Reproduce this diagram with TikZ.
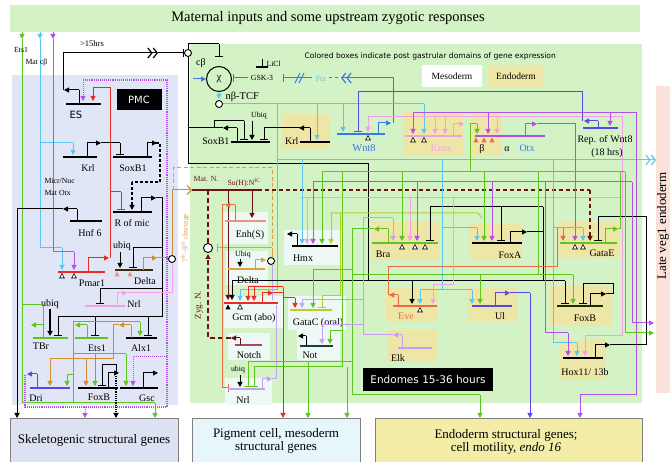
\documentclass[tikz,border=0pt]{standalone}
\usepackage{fontspec}
\setmainfont{Liberation Serif}
\setsansfont{DejaVu Sans}
\usetikzlibrary{arrows.meta}
\definecolor{bggreen}{HTML}{D3F2C5}
\definecolor{bgpmc}{HTML}{E1E6F6}
\definecolor{yelbox}{HTML}{EEE6A6}
\definecolor{wbox}{HTML}{EEF8F5}
\definecolor{pinkbg}{HTML}{FCE1DA}
\definecolor{skelbox}{HTML}{DDE2F3}
\definecolor{pigbox}{HTML}{E6F6FA}
\definecolor{endobox}{HTML}{F3EDA8}
\definecolor{lblue}{HTML}{5CC6F2}
\definecolor{mblue}{HTML}{3C78E6}
\definecolor{bviol}{HTML}{5A48E6}
\definecolor{purp}{HTML}{B450EA}
\definecolor{pinkc}{HTML}{F4A0E4}
\definecolor{lav}{HTML}{C4A0F4}
\definecolor{grn}{HTML}{5CC61C}
\definecolor{ygrn}{HTML}{B8CC2C}
\definecolor{orng}{HTML}{D48C34}
\definecolor{redc}{HTML}{EC2A22}
\definecolor{ored}{HTML}{E66C44}
\definecolor{brwn}{HTML}{6C1212}
\definecolor{salm}{HTML}{F49080}
\definecolor{dorange}{HTML}{DCA040}
\begin{document}
\begin{tikzpicture}[x=1pt,y=-1pt,line width=1pt,
 ar/.style={-{Triangle[length=5pt,width=5pt]}},
 br/.style={-{Bar[width=8pt,line width=1.3pt]}},
 gl/.style={line width=1.6pt},
 lbl/.style={font=\fontsize{10}{10}\selectfont,inner sep=0pt},
 sml/.style={font=\fontsize{7.8}{8}\selectfont,inner sep=0pt},
 dchev/.style={-{Straight Barb[length=4pt,width=10pt,line width=1.2pt]Straight Barb[length=4pt,width=10pt,line width=1.2pt]}},
 otri/.pic={\draw[line width=0.6pt,fill=white] (-2.3,6)--(2.3,6)--(0,1.5)--cycle;},
 ftri/.pic={\fill (-2.6,6.5)--(2.6,6.5)--(0,1.5)--cycle;},
 ocirc/.style={circle,draw,fill=white,inner sep=0pt,minimum size=7pt,line width=0.9pt},
 bk/.style={fill=black,text=white,font=\sffamily\fontsize{10}{10}\selectfont,inner sep=0pt},
]
\fill[white] (0,0) rectangle (670,462);
\useasboundingbox (0,0) rectangle (670,462);
% ---------- backgrounds ----------
\fill[bggreen] (10,5) rectangle (640,32);
\node[font=\fontsize{14.5}{15}\selectfont] (title) at (328,18.5) {Maternal inputs and some upstream zygotic responses};
\fill[bgpmc] (12,75) rectangle (178,405);
\fill[bggreen] (190,44) rectangle (642,403);
\fill[pinkbg] (656,86) rectangle (672,393);
\node[rotate=90,font=\fontsize{13}{13}\selectfont,inner sep=0pt] (lateveg) at (663,226) {Late veg1 endoderm};
\filldraw[fill=skelbox,draw=gray,line width=0.6pt] (10,418) rectangle (178,470);
\filldraw[fill=pigbox,draw=gray,line width=0.6pt] (192,418) rectangle (360,470);
\filldraw[fill=endobox,draw=gray,line width=0.6pt] (375,418) rectangle (642,470);
\node[font=\fontsize{13}{13}\selectfont] (skel) at (94,440) {Skeletogenic structural genes};
\node[font=\fontsize{13}{13.5}\selectfont,align=center] (pig) at (276,441) {Pigment cell, mesoderm\\structural genes};
\node[font=\fontsize{13}{13.5}\selectfont,align=center] (endos) at (506,442) {Endoderm structural genes;\\cell motility, \textit{endo 16}};
% gene boxes
\fill[yelbox] (282,114) rectangle (330,149);
\fill[yelbox] (403,112) rectangle (463,156);
\fill[yelbox] (472,112) rectangle (502,156);
\fill[yelbox] (372,222) rectangle (440,260);
\fill[yelbox] (469,224) rectangle (522,260);
\fill[yelbox] (557,222) rectangle (620,258);
\fill[yelbox] (386,288) rectangle (438,322);
\fill[yelbox] (468,288) rectangle (518,321);
\fill[yelbox] (550,286) rectangle (612,326);
\fill[yelbox] (387,330) rectangle (437,362);
\fill[yelbox] (560,340) rectangle (606,380);
\fill[wbox] (222,212) rectangle (268,244);
\fill[wbox] (226,251) rectangle (268,285);
\fill[wbox] (284,230) rectangle (342,265);
\fill[wbox] (224,296) rectangle (284,328);
\fill[wbox] (288,296) rectangle (346,330);
\fill[wbox] (228,333) rectangle (270,360);
\fill[wbox] (297,330) rectangle (340,360);
\fill[wbox] (225,378) rectangle (272,405);
\node[fill=white,minimum width=60pt,minimum height=22pt,font=\fontsize{9.5}{9.5}\selectfont] (meso) at (452,76) {Mesoderm};
\node[fill=yelbox,minimum width=56pt,minimum height=22pt,font=\fontsize{9.5}{9.5}\selectfont] (endo) at (516,76) {Endoderm};
\node[font=\sffamily\fontsize{7.6}{8}\selectfont,anchor=west,inner sep=0pt] (colored) at (304,56) {Colored boxes indicate post gastrular domains of gene expression};
\node[bk,minimum width=45pt,minimum height=21pt] (pmc) at (139,100) {PMC};
\node[bk,minimum width=130pt,minimum height=23pt,font=\sffamily\fontsize{10.5}{11}\selectfont] (endomes) at (428,380) {Endomes 15-36 hours};
% ---------- maternal lines ----------
\draw[grn,ar] (22,32)--(22,39);
\draw[lblue,ar] (40,32)--(40,39);
\draw[purp,ar] (53,32)--(53,39);
\draw[grn] (22,39)--(22,403)--(155,403);
\draw[grn,ar] (155,403)--(155,418);
\draw[lblue] (40,39)--(40,248)--(62,248);
\draw[lblue,ar] (62,248)--(62,270);
\draw[lblue] (40,143)--(73,143);
\draw[lblue,ar] (73,143)--(73,155);
\draw[purp] (53,39)--(53,252)--(74,252);
\draw[purp,ar] (74,252)--(74,270);
\node[sml] (ets1m) at (21,50) {Ets1};
\node[sml,anchor=west] (matcb) at (25,63) {Mat cβ};
\node[sml,anchor=west] (micr) at (44,181) {Micr/Nuc};
\node[sml,anchor=west] (matotx) at (44,193) {Mat Otx};
% ---------- PMC ----------
\draw[purp,densely dotted,line width=1.1pt] (83,80)--(167,80)--(167,407)--(25,407)--(25,375);
\draw[purp,ar,densely dotted] (83,80)--(83,101);
\draw[purp,ar,densely dotted] (167,357)--(133,357)--(133,386);
\draw[purp,ar,densely dotted] (85,407)--(85,418);
% ES
\draw[gl] (66,104)--(101,104);
\node[font=\sffamily\fontsize{10}{10}\selectfont] (es) at (76,115) {ES};
\draw (79,104)--(79,90);
\draw[ar] (79,90)--(64,90);
\draw (63,90)--(63,53);
\draw[dchev] (63,53)--(158,53);
\draw[br] (158,53)--(184,53);
\node[ocirc] (c1) at (188,53) {};
\node[font=\fontsize{8.5}{9}\selectfont,inner sep=0pt] (hrs) at (92,44) {>15hrs};
% red Pmar1 output
\draw[redc] (110,258)--(110,88)--(93,88);
\draw[redc,ar] (93,88)--(93,101);
\draw[redc] (110,192)--(121,192);
\draw[redc,br] (121,192)--(121,210);
% Krl PMC
\draw[gl] (63,157)--(97,157);
\node[lbl] (krlp) at (88,168) {Krl};
\draw (87,157)--(87,143);
\draw[ar] (87,143)--(101,143);
\draw (101,143)--(120,143);
\draw[br] (120,143)--(120,155);
% SoxB1 PMC
\draw[gl] (113,157)--(152,157);
\node[lbl] (soxp) at (133,168) {SoxB1};
\draw (147,157)--(147,143);
\draw[ar] (147,143)--(157,143);
\draw[dash pattern=on 3pt off 2pt,line width=1.5pt] (156,143)--(160,143)--(160,182)--(132,182);
\draw[dash pattern=on 3pt off 2pt,line width=1.5pt,ar] (132,182)--(132,210);
% R of mic
\draw[gl] (113,212)--(152,212);
\node[lbl] (rmic) at (132,223) {R of mic};
\draw (141,212)--(141,198);
\draw[ar] (141,198)--(156,198);
\draw (156,198)--(162,198)--(162,317);
% Hnf6
\draw[gl] (70,221)--(102,221);
\node[lbl] (hnf) at (90,233) {Hnf 6};
\draw (77,221)--(77,209);
\draw[ar] (77,209)--(63,209);
\draw (63,209)--(17,209);
\draw[ar] (17,209)--(17,418);
% Pmar1
\draw[redc,gl] (58,272)--(105,272);
\pic at (62,272) {otri};
\pic at (74,272) {otri};
\node[lbl] (pmar) at (92,283) {Pmar1};
\draw[redc] (88,272)--(88,258);
\draw[redc,ar] (88,258)--(109,258);
% Delta PMC
\node[lbl] (ubq1) at (122,246) {ubiq};
\draw[ar] (120,252)--(120,268);
\draw[gl,black!70!orng] (115,270)--(153,270);
\draw (162,248)--(133,248);
\draw[br] (133,248)--(133,268);
\pic[color=salm] at (117,270) {ftri};
\pic[color=salm] at (130,270) {ftri};
\draw[orng] (143,270)--(143,258);
\draw[orng,ar] (143,258)--(157,258);
\draw[orng] (157,258)--(168,258);
\node[ocirc] (c2) at (172,259) {};
\draw[orng] (172,255)--(172,190);
\draw[orng,-{Straight Barb[length=4pt,width=9pt,line width=1.2pt]}] (172,190)--(192,190);
\node[lbl] (deltap) at (145,281) {Delta};
% Nrl PMC
\draw[pinkc,gl] (85,306)--(125,306);
\node[lbl] (nrlp) at (134,304) {Nrl};
\draw[pinkc] (117,306)--(117,293);
\draw[pinkc,ar] (117,293)--(127,293);
\draw[pinkc] (127,293)--(172,293)--(172,263);
\draw (162,289)--(100,289);
\draw[br] (100,289)--(100,304);
% TBr, Ets1, Alx1
\draw (162,317)--(58,317);
\draw[br] (58,317)--(58,336);
\draw[br] (95,317)--(95,336);
\draw[br] (148,317)--(148,336);
\node[lbl] (ubq2) at (50,304) {ubiq};
\draw[ar,line width=1.3pt] (50,309)--(50,336);
\draw[grn,gl] (33,338)--(68,338);
\node[lbl] (tbr) at (41,346) {TBr};
\draw[grn] (22,305)--(43,305)--(43,338);
\draw[grn,ar] (43,325)--(31,325);
\draw[grn,gl] (75,338)--(108,338);
\node[lbl] (ets1p) at (97,348) {Ets1};
\draw[grn] (87,338)--(87,325);
\draw[grn,ar] (87,325)--(75,325);
\draw[grn] (73,322)--(73,403);
\draw[grn] (73,322)--(140,322);
\draw[grn,ar] (140,322)--(140,336);
\draw[gl] (126,338)--(157,338);
\node[lbl] (alx) at (141,348) {Alx1};
\draw[orng] (131,338)--(131,325);
\draw[orng,ar] (131,325)--(119,325);
\draw[orng] (119,325)--(113,325)--(113,359)--(50,359);
\draw[orng,ar] (50,359)--(50,386);
\draw[orng,ar] (86,359)--(86,386);
% Dri, FoxB, Gsc
\draw[grn] (73,354)--(126,354);
\draw[grn,ar] (95,354)--(95,386);
\draw[grn,ar] (126,354)--(126,386);
\draw[grn] (73,375)--(67,375);
\draw[grn,ar] (67,375)--(67,386);
\draw[bviol,gl] (30,388)--(70,388);
\node[lbl] (dri) at (36,398) {Dri};
\draw[bviol] (37,388)--(37,374);
\draw[bviol,ar] (37,374)--(27,374);
\draw[gl] (78,388)--(118,388);
\node[lbl] (foxbp) at (99,397) {FoxB};
\draw (108,388)--(108,373);
\draw[ar] (108,373)--(119,373);
\draw (116,373)--(116,365)--(102,365);
\draw[br] (102,365)--(102,386);
\draw[ar,densely dotted,line width=1.2pt] (116,376)--(116,418);
\draw[gl] (120,388)--(158,388);
\node[lbl] (gsc) at (147,398) {Gsc};
\draw (143,388)--(143,373);
\draw[ar] (143,373)--(158,373);
% ---------- green region: top ----------
\draw (188,57)--(188,164)--(368,164)--(368,281);
\draw (188,49)--(188,44)--(219,44);
\draw[br] (219,44)--(219,57);
\node[circle,draw,minimum size=25pt,inner sep=0pt,font=\fontsize{11}{11}\selectfont] (chi) at (219,79) {χ};
\node[lbl] (cb) at (201,63) {cβ};
\draw[mblue,ar] (193,79)--(206,79);
\draw[lblue,ar] (219,92)--(219,99);
\node[ocirc] (tcfc) at (219,104) {};
\node[font=\fontsize{10.5}{11}\selectfont,anchor=west,inner sep=0pt] (tcf) at (225,97) {nβ-TCF};
\draw[mblue,br] (248,78)--(233,78);
\node[sml] (gsk) at (262,78) {GSK-3};
\draw[mblue,br] (312,78)--(283,78);
\draw[mblue,line width=0.9pt] (295,83)--(300,73) (299,83)--(304,73);
\node[sml,text=lblue] (frz) at (321,79) {Frz};
\draw[mblue,dashed] (329,78)--(338,78);
\draw[mblue,dchev] (393,123)--(393,78)--(341,78);
\draw (262,59)--(262,67);
\draw[line width=1.3pt] (256,67)--(268,67);
\node[sml,anchor=west] (licl) at (266,64) {LiCl};
% TCF lines
\draw[lblue] (223,104)--(424,104);
\draw[lblue,ar] (424,104)--(424,134);
\draw[lblue,ar] (317,104)--(317,140);
\draw[lblue,ar] (343,104)--(343,132);
\draw[lblue] (277,104)--(277,290)--(240,290);
\draw[lblue,ar] (240,290)--(240,301);
\draw[lblue] (277,160)--(636,160);
\draw[lblue,dchev] (630,160)--(656,160);
% SoxB1 green
\draw[gl] (231,142)--(270,142);
\node[lbl,anchor=base east] (soxg) at (230,145) {SoxB1};
\draw (237,142)--(237,128);
\draw[ar] (237,128)--(223,128);
\draw (223,128)--(188,128);
\draw (214,128)--(214,121)--(244,121);
\draw[br] (244,121)--(244,140);
\node[sml] (ubq3) at (259,116) {Ubiq};
\draw[ar] (252,121)--(252,140);
\draw (300,128)--(264,128);
\draw[br] (264,128)--(264,140);
% Krl green
\draw[gl] (300,142)--(330,142);
\node[lbl,anchor=base east] (krlg) at (299,145) {Krl};
\draw (310,142)--(310,128);
\draw[ar] (310,128)--(299,128);
% Wnt8
\draw[mblue,gl] (337,134)--(385,134);
\node[lbl,text=mblue,font=\fontsize{10.5}{11}\selectfont] (wnt8) at (364,148) {Wnt8};
\pic at (368,134) {otri};
\draw[pinkc] (368,117)--(622,117)--(622,336)--(585,336);
\draw[pinkc,ar] (585,336)--(585,356);
\draw[pinkc,ar] (368,117)--(368,132);
\draw[mblue] (378,134)--(378,123);
\draw[mblue,ar] (378,123)--(391,123);
\draw[bviol] (582,121)--(582,92)--(358,92);
\draw[bviol,br] (358,92)--(358,132);
% Krox
\draw[purp] (413,113)--(636,113)--(636,395)--(580,395);
\draw[purp,ar] (580,395)--(580,418);
\draw[pinkc,gl] (405,136)--(462,136);
\node[lbl,text=pinkc] (krox) at (441,148) {Krox};
\pic at (413,136) {otri};
\pic at (424,136) {otri};
\draw[purp,ar] (413,113)--(413,134);
\draw[pinkc,ar] (435,117)--(435,134);
\draw[pinkc,ar] (445,117)--(445,134);
\draw[pinkc] (453,136)--(453,124);
\draw[pinkc,ar] (453,124)--(464,124);
% beta / Otx
\draw[purp,gl] (475,136)--(545,136);
\pic[color=ored] at (476,136) {ftri};
\pic[color=ored] at (484,136) {ftri};
\pic[color=ored] at (492,136) {ftri};
\node[lbl] (beta) at (482,149) {β};
\node[lbl] (alpha) at (507,149) {α};
\node[lbl,text=mblue] (otx) at (527,148) {Otx};
\draw[purp,ar] (488,113)--(488,134);
\draw[pinkc,ar] (497,117)--(497,134);
\draw[grn] (470,172)--(470,124)--(477,124);
\draw[grn,ar] (477,124)--(477,134);
\draw[purp] (525,136)--(525,124);
\draw[purp,ar] (525,124)--(537,124);
\draw[purp] (537,124)--(575,124)--(575,182);
% Rep of Wnt8
\draw[bviol,gl] (583,128)--(618,128);
\node[lbl] (rep) at (605,140) {Rep. of Wnt8};
\node[lbl] (rep18) at (607,153) {(18 hrs)};
\draw[bviol] (598,128)--(598,121);
\draw[bviol,ar] (598,121)--(584,121);
\draw[purp,ar] (610,113)--(610,126);
% ---------- Notch / Su(H) ----------
\draw[dorange,dash pattern=on 4pt off 2.5pt] (173,190)--(173,168)--(272,168)--(272,248);
\draw[dorange,br] (272,248)--(217,248);
\draw[dorange] (272,248)--(272,257);
\node[rotate=90,text=dorange,font=\fontsize{7.5}{8}\selectfont] (clv) at (185,238) {7\textsuperscript{th}–9\textsuperscript{th} cleavage};
\node[sml,text=brwn] (matn) at (206,179) {Mat. N.};
\node[sml,text=brwn] (suh) at (244,183) {Su(H):N\textsuperscript{IC}};
\draw[brwn,line width=1.3pt] (192,190)--(258,190);
\draw[brwn,line width=1.3pt,dash pattern=on 4pt off 3pt] (258,190)--(590,190);
\draw[brwn,line width=1.3pt,dash pattern=on 4pt off 3pt,ar] (590,190)--(590,241);
\draw[brwn,ar] (228,190)--(228,300);
\draw[brwn,ar] (252,190)--(252,218);
\draw[brwn,line width=1.4pt,dash pattern=on 5pt off 3pt] (208,190)--(208,244);
\node[ocirc,minimum size=9pt] (c3) at (208,248) {};
\draw[brwn,line width=1.4pt,dash pattern=on 5pt off 3pt,ar] (231,338)--(208,338)--(208,254);
\node[rotate=90,text=brwn,font=\fontsize{9}{9}\selectfont] (zyg) at (199,305) {Zyg. N.};
% Enh(S)
\draw[salm,gl] (225,221)--(266,221);
\node[lbl] (enh) at (250,235) {Enh(S)};
\draw[ored] (235,221)--(235,205);
\draw[ored,ar] (235,205)--(225,205);
\draw[ored] (225,205)--(222,205)--(222,388);
\draw[ored,br] (222,388)--(229,388);
% Delta green
\node[sml] (ubq4) at (243,255) {Ubiq};
\draw[ar] (240,259)--(240,267);
\draw[dorange,gl] (228,269)--(265,269);
\node[lbl] (deltag) at (248,280) {Delta};
\draw[dorange] (255,269)--(255,260);
\draw[dorange,ar] (255,260)--(266,260);
\node[ocirc] (c4) at (271,261) {};
\draw[lav] (272,265)--(272,300);
% Gcm
\draw (232,281)--(565,281);
\draw[ar] (232,281)--(232,300);
\draw[redc,gl] (224,303)--(278,303);
\pic at (240,303) {otri};
\pic at (228,303) {ftri};
\node[lbl] (gcm) at (254,318) {Gcm (abo)};
\draw[redc] (262,303)--(262,293);
\draw[redc,ar] (262,293)--(273,293);
\draw[redc] (273,293)--(283,293);
\draw[redc,ar] (283,287)--(283,418);
\draw[redc] (283,287)--(248,287);
\draw[redc,ar] (248,287)--(248,301);
\draw[redc,ar] (254,287)--(254,301);
\draw[redc] (283,298)--(295,298);
\draw[redc,ar] (295,298)--(295,308);
% GataC
\draw[ygrn,gl] (290,310)--(332,310);
\node[lbl] (gatac) at (318,323) {GataC (oral)};
\draw[lav] (363,300)--(302,300);
\draw[lav,ar] (302,300)--(302,308);
\draw[grn] (352,270)--(313,270);
\draw[grn,ar] (313,270)--(313,308);
\draw[ygrn] (340,213)--(340,296)--(322,296);
\draw[ygrn,br] (322,296)--(322,308);
% Notch
\draw[brwn!60!pinkc,gl] (235,345)--(262,345);
\node[lbl] (notch) at (249,355) {Notch};
\draw[brwn] (240,345)--(240,338);
\draw[brwn,ar] (240,338)--(231,338);
% Nrl green
\node[sml] (ubq5) at (238,370) {ubiq};
\draw[ar] (240,375)--(240,387);
\draw[lav,gl] (228,389)--(265,389);
\node[lbl] (nrlg) at (243,400) {Nrl};
\draw[lav] (262,389)--(262,379);
\draw[lav,ar] (262,379)--(272,379);
\draw[lav] (272,379)--(276,379)--(276,305);
\draw[grn] (352,229)--(352,362)--(248,362);
\draw[grn,br] (248,362)--(248,387);
\draw[grn] (342,172)--(342,367)--(254,367);
\draw[grn,br] (254,367)--(254,387);
\draw[grn,ar] (308,362)--(308,418);
\draw[grn] (352,362)--(352,395)--(480,395);
\draw[grn,ar] (347,367)--(347,418);
\draw[grn,ar] (480,395)--(480,418);
% Not
\draw[black!70!lblue,gl] (300,346)--(333,346);
\node[lbl] (nott) at (310,355) {Not};
\draw (306,346)--(306,336);
\draw[ar] (306,336)--(298,336);
\draw[lav] (363,325)--(322,325);
\draw[lav,ar] (322,325)--(322,344);
\draw[grn] (342,331)--(330,331);
\draw[grn,ar] (330,331)--(330,344);
% ---------- mid buses ----------
\draw[grn] (322,172)--(625,172);
\draw[purp] (313,182)--(632,182);
\draw[pinkc] (300,198)--(622,198);
\draw[ygrn] (331,213)--(478,213)--(482,218);
\draw (430,207)--(543,207);
\draw[grn] (538,172)--(538,275);
% Hmx
\draw[gl] (292,246)--(338,246);
\node[lbl] (hmx) at (303,258) {Hmx};
\draw (297,246)--(297,234);
\draw[ar] (297,234)--(287,234);
\draw[lblue,ar] (302,160)--(302,244);
\draw[pinkc,ar] (307,198)--(307,244);
\draw[purp,ar] (313,182)--(313,244);
\draw[grn,ar] (322,172)--(322,244);
\draw[ygrn,ar] (331,213)--(331,244);
% Bra
\draw[grn,gl] (372,243)--(438,243);
\node[lbl] (bra) at (383,254) {Bra};
\draw[grn] (388,243)--(388,229);
\draw[grn,ar] (388,229)--(374,229);
\draw[grn] (374,229)--(352,229);
\pic at (402,243) {otri};
\pic at (415,243) {otri};
\pic at (425,243) {otri};
\draw[lav] (393,335)--(363,335)--(363,218)--(393,218);
\draw[lav,ar] (393,218)--(393,241);
\draw[grn,ar] (402,172)--(402,241);
\draw[pinkc,ar] (410,198)--(410,241);
\draw[purp,ar] (417,182)--(417,241);
\draw[br] (430,207)--(430,241);
% FoxA
\draw[gl] (472,243)--(522,243);
\node[lbl] (foxa) at (510,255) {FoxA};
\draw[lblue] (442,160)--(442,290);
\draw[lblue] (442,228)--(477,228);
\draw[lblue,ar] (477,228)--(477,241);
\draw[grn,ar] (484,172)--(484,241);
\draw[purp,ar] (492,182)--(492,241);
\draw[br] (501,207)--(501,241);
\draw (510,243)--(510,232);
\draw[ar] (510,232)--(527,232);
\draw (527,232)--(543,232);
\draw (543,207)--(543,281);
% GataE
\draw[grn,gl] (560,243)--(617,243);
\node[lbl] (gatae) at (602,253) {GataE};
\pic at (575,243) {otri};
\pic at (583,243) {otri};
\draw[ored] (390,295)--(388,295)--(388,267)--(557,267)--(557,228)--(563,228);
\draw[ored,ar] (563,228)--(563,241);
\draw[purp,ar] (575,182)--(575,241);
\draw[lblue] (553,160)--(553,343)--(577,343);
\draw[lblue,ar] (577,343)--(577,356);
\draw[lblue] (553,228)--(583,228);
\draw[lblue,ar] (583,228)--(583,241);
\draw (610,345)--(646,345)--(646,217)--(598,217);
\draw[br] (598,217)--(598,241);
\draw[grn] (605,243)--(605,229);
\draw[grn,ar] (605,229)--(618,229);
\draw[grn] (618,229)--(620,229)--(620,172);
% Eve
\draw[ored,gl] (393,306)--(437,306);
\node[lbl,text=ored] (eve) at (406,316) {Eve};
\pic at (420,306) {otri};
\draw[ored] (398,306)--(398,295);
\draw[ored,ar] (398,295)--(389,295);
\draw[ar] (412,281)--(412,304);
\draw[lblue] (442,290)--(420,290);
\draw[lblue,ar] (420,290)--(420,304);
\draw[pinkc] (453,198)--(453,285)--(433,285);
\draw[pinkc,ar] (433,285)--(433,304);
% Ul
\draw[bviol,gl] (472,306)--(512,306);
\node[lbl] (ul) at (500,316) {Ul};
\draw[lblue] (442,290)--(472,290);
\draw[lblue,ar] (472,290)--(472,304);
\draw[grn] (352,275)--(573,275);
\draw[grn,ar] (480,275)--(480,304);
\draw[bviol] (495,306)--(495,293);
\draw[bviol,ar] (495,293)--(510,293);
\draw[bviol] (510,293)--(530,293);
\draw[bviol,ar] (530,293)--(530,418);
% FoxB green
\draw[black!75!grn,gl] (557,306)--(603,306);
\node[lbl] (foxbg) at (585,318) {FoxB};
\draw[br] (565,281)--(565,304);
\draw[grn,ar] (573,275)--(573,304);
\draw (590,306)--(590,294);
\draw[ar] (590,294)--(606,294);
\draw (606,294)--(613,294)--(613,284)--(583,284);
\draw[br] (583,284)--(583,304);
% Elk
\draw[lav,gl] (398,348)--(432,348);
\node[lbl] (elk) at (398,358) {Elk};
\draw[lav] (402,348)--(402,335);
\draw[lav,ar] (402,335)--(393,335);
% Hox11/13b
\draw[gl] (563,358)--(603,358);
\node[lbl] (hox) at (585,372) {Hox11/ 13b};
\draw[purp] (545,182)--(545,333)--(568,333);
\draw[purp,ar] (568,333)--(568,356);
\draw (595,358)--(595,345);
\draw[ar] (595,345)--(610,345);
% right exits
\draw[purp] (632,182)--(632,323);
\draw[purp,ar] (632,323)--(654,323);
\draw[grn] (625,172)--(625,333);
\draw[grn,ar] (625,333)--(654,333);
\end{tikzpicture}
\end{document}
